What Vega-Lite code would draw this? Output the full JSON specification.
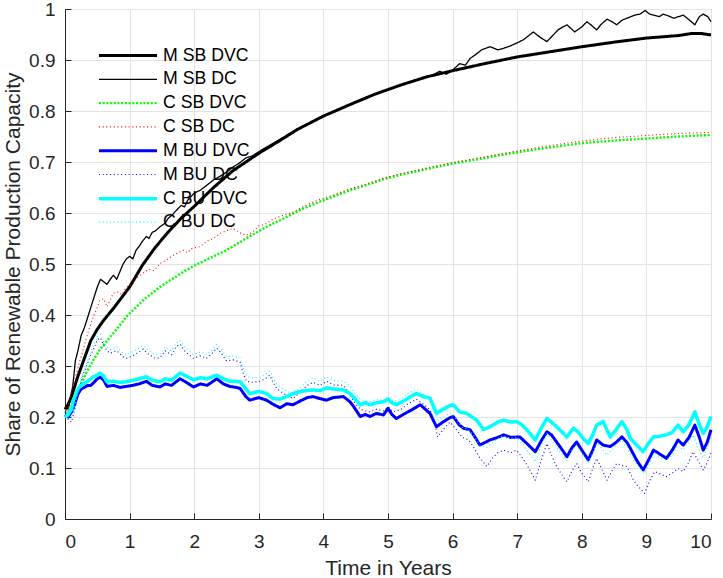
{
  "$schema": "https://vega.github.io/schema/vega-lite/v6.json",
  "width": 646,
  "height": 510,
  "autosize": {"type": "none"},
  "padding": {"left": 65, "top": 9, "right": 12, "bottom": 59},
  "background": "white",
  "data": {"values": [
    {"s":"M SB DVC","t":0,"v":0.215},{"s":"M SB DVC","t":0.05,"v":0.225},{"s":"M SB DVC","t":0.1,"v":0.24},{"s":"M SB DVC","t":0.2,"v":0.28},{"s":"M SB DVC","t":0.3,"v":0.315},{"s":"M SB DVC","t":0.4,"v":0.35},{"s":"M SB DVC","t":0.5,"v":0.372},{"s":"M SB DVC","t":0.6,"v":0.39},{"s":"M SB DVC","t":0.75,"v":0.413},{"s":"M SB DVC","t":0.9,"v":0.438},{"s":"M SB DVC","t":1.0,"v":0.455},{"s":"M SB DVC","t":1.2,"v":0.498},{"s":"M SB DVC","t":1.4,"v":0.533},{"s":"M SB DVC","t":1.6,"v":0.563},{"s":"M SB DVC","t":1.8,"v":0.59},{"s":"M SB DVC","t":2.0,"v":0.613},{"s":"M SB DVC","t":2.3,"v":0.65},{"s":"M SB DVC","t":2.6,"v":0.683},{"s":"M SB DVC","t":3.0,"v":0.717},{"s":"M SB DVC","t":3.3,"v":0.74},{"s":"M SB DVC","t":3.6,"v":0.764},{"s":"M SB DVC","t":4.0,"v":0.79},{"s":"M SB DVC","t":4.4,"v":0.812},{"s":"M SB DVC","t":4.8,"v":0.833},{"s":"M SB DVC","t":5.2,"v":0.851},{"s":"M SB DVC","t":5.6,"v":0.867},{"s":"M SB DVC","t":6.0,"v":0.879},{"s":"M SB DVC","t":6.5,"v":0.893},{"s":"M SB DVC","t":7.0,"v":0.906},{"s":"M SB DVC","t":7.5,"v":0.916},{"s":"M SB DVC","t":8.0,"v":0.926},{"s":"M SB DVC","t":8.5,"v":0.935},{"s":"M SB DVC","t":9.0,"v":0.943},{"s":"M SB DVC","t":9.5,"v":0.948},{"s":"M SB DVC","t":9.7,"v":0.952},{"s":"M SB DVC","t":9.85,"v":0.952},{"s":"M SB DVC","t":10,"v":0.949},

    {"s":"M SB DC","t":0,"v":0.22},{"s":"M SB DC","t":0.05,"v":0.215},{"s":"M SB DC","t":0.08,"v":0.235},{"s":"M SB DC","t":0.12,"v":0.26},{"s":"M SB DC","t":0.16,"v":0.31},{"s":"M SB DC","t":0.2,"v":0.33},{"s":"M SB DC","t":0.25,"v":0.36},{"s":"M SB DC","t":0.3,"v":0.375},{"s":"M SB DC","t":0.35,"v":0.395},{"s":"M SB DC","t":0.4,"v":0.415},{"s":"M SB DC","t":0.45,"v":0.435},{"s":"M SB DC","t":0.5,"v":0.455},{"s":"M SB DC","t":0.55,"v":0.47},{"s":"M SB DC","t":0.6,"v":0.465},{"s":"M SB DC","t":0.65,"v":0.46},{"s":"M SB DC","t":0.7,"v":0.47},{"s":"M SB DC","t":0.75,"v":0.478},{"s":"M SB DC","t":0.8,"v":0.47},{"s":"M SB DC","t":0.85,"v":0.485},{"s":"M SB DC","t":0.9,"v":0.5},{"s":"M SB DC","t":0.95,"v":0.51},{"s":"M SB DC","t":1.0,"v":0.515},{"s":"M SB DC","t":1.05,"v":0.51},{"s":"M SB DC","t":1.1,"v":0.527},{"s":"M SB DC","t":1.15,"v":0.535},{"s":"M SB DC","t":1.2,"v":0.545},{"s":"M SB DC","t":1.26,"v":0.554},{"s":"M SB DC","t":1.3,"v":0.55},{"s":"M SB DC","t":1.35,"v":0.562},{"s":"M SB DC","t":1.4,"v":0.565},{"s":"M SB DC","t":1.47,"v":0.573},{"s":"M SB DC","t":1.55,"v":0.58},{"s":"M SB DC","t":1.6,"v":0.59},{"s":"M SB DC","t":1.65,"v":0.595},{"s":"M SB DC","t":1.73,"v":0.606},{"s":"M SB DC","t":1.8,"v":0.615},{"s":"M SB DC","t":1.85,"v":0.612},{"s":"M SB DC","t":1.9,"v":0.625},{"s":"M SB DC","t":2.0,"v":0.639},{"s":"M SB DC","t":2.1,"v":0.645},{"s":"M SB DC","t":2.2,"v":0.655},{"s":"M SB DC","t":2.3,"v":0.665},{"s":"M SB DC","t":2.4,"v":0.672},{"s":"M SB DC","t":2.5,"v":0.68},{"s":"M SB DC","t":2.6,"v":0.69},{"s":"M SB DC","t":2.7,"v":0.698},{"s":"M SB DC","t":2.8,"v":0.708},{"s":"M SB DC","t":2.9,"v":0.712},{"s":"M SB DC","t":3.0,"v":0.72},{"s":"M SB DC","t":3.1,"v":0.728},{"s":"M SB DC","t":3.2,"v":0.735},{"s":"M SB DC","t":3.4,"v":0.75},{"s":"M SB DC","t":3.6,"v":0.765},{"s":"M SB DC","t":3.8,"v":0.777},{"s":"M SB DC","t":4.0,"v":0.791},{"s":"M SB DC","t":4.2,"v":0.8},{"s":"M SB DC","t":4.4,"v":0.812},{"s":"M SB DC","t":4.6,"v":0.824},{"s":"M SB DC","t":4.8,"v":0.833},{"s":"M SB DC","t":5.0,"v":0.842},{"s":"M SB DC","t":5.2,"v":0.851},{"s":"M SB DC","t":5.4,"v":0.86},{"s":"M SB DC","t":5.6,"v":0.866},{"s":"M SB DC","t":5.7,"v":0.871},{"s":"M SB DC","t":5.8,"v":0.878},{"s":"M SB DC","t":5.9,"v":0.872},{"s":"M SB DC","t":6.0,"v":0.88},{"s":"M SB DC","t":6.11,"v":0.893},{"s":"M SB DC","t":6.2,"v":0.89},{"s":"M SB DC","t":6.27,"v":0.903},{"s":"M SB DC","t":6.35,"v":0.91},{"s":"M SB DC","t":6.45,"v":0.92},{"s":"M SB DC","t":6.58,"v":0.926},{"s":"M SB DC","t":6.7,"v":0.92},{"s":"M SB DC","t":6.79,"v":0.923},{"s":"M SB DC","t":6.9,"v":0.928},{"s":"M SB DC","t":6.99,"v":0.933},{"s":"M SB DC","t":7.1,"v":0.94},{"s":"M SB DC","t":7.25,"v":0.955},{"s":"M SB DC","t":7.35,"v":0.945},{"s":"M SB DC","t":7.46,"v":0.936},{"s":"M SB DC","t":7.55,"v":0.948},{"s":"M SB DC","t":7.64,"v":0.96},{"s":"M SB DC","t":7.77,"v":0.969},{"s":"M SB DC","t":7.89,"v":0.955},{"s":"M SB DC","t":8.0,"v":0.965},{"s":"M SB DC","t":8.08,"v":0.975},{"s":"M SB DC","t":8.15,"v":0.968},{"s":"M SB DC","t":8.23,"v":0.959},{"s":"M SB DC","t":8.3,"v":0.97},{"s":"M SB DC","t":8.39,"v":0.98},{"s":"M SB DC","t":8.47,"v":0.975},{"s":"M SB DC","t":8.54,"v":0.969},{"s":"M SB DC","t":8.62,"v":0.978},{"s":"M SB DC","t":8.7,"v":0.982},{"s":"M SB DC","t":8.82,"v":0.988},{"s":"M SB DC","t":8.9,"v":0.99},{"s":"M SB DC","t":8.98,"v":0.997},{"s":"M SB DC","t":9.05,"v":0.99},{"s":"M SB DC","t":9.11,"v":0.988},{"s":"M SB DC","t":9.2,"v":0.985},{"s":"M SB DC","t":9.26,"v":0.99},{"s":"M SB DC","t":9.35,"v":0.986},{"s":"M SB DC","t":9.42,"v":0.982},{"s":"M SB DC","t":9.5,"v":0.985},{"s":"M SB DC","t":9.57,"v":0.988},{"s":"M SB DC","t":9.65,"v":0.98},{"s":"M SB DC","t":9.75,"v":0.969},{"s":"M SB DC","t":9.82,"v":0.985},{"s":"M SB DC","t":9.88,"v":0.99},{"s":"M SB DC","t":9.95,"v":0.985},{"s":"M SB DC","t":10,"v":0.975},

    {"s":"C SB DVC","t":0,"v":0.2},{"s":"C SB DVC","t":0.05,"v":0.21},{"s":"C SB DVC","t":0.13,"v":0.233},{"s":"C SB DVC","t":0.23,"v":0.259},{"s":"C SB DVC","t":0.33,"v":0.287},{"s":"C SB DVC","t":0.44,"v":0.312},{"s":"C SB DVC","t":0.55,"v":0.334},{"s":"C SB DVC","t":0.7,"v":0.357},{"s":"C SB DVC","t":0.85,"v":0.38},{"s":"C SB DVC","t":0.95,"v":0.397},{"s":"C SB DVC","t":1.1,"v":0.415},{"s":"C SB DVC","t":1.21,"v":0.429},{"s":"C SB DVC","t":1.35,"v":0.443},{"s":"C SB DVC","t":1.47,"v":0.455},{"s":"C SB DVC","t":1.6,"v":0.466},{"s":"C SB DVC","t":1.73,"v":0.476},{"s":"C SB DVC","t":1.85,"v":0.486},{"s":"C SB DVC","t":1.99,"v":0.496},{"s":"C SB DVC","t":2.2,"v":0.509},{"s":"C SB DVC","t":2.5,"v":0.527},{"s":"C SB DVC","t":2.8,"v":0.55},{"s":"C SB DVC","t":3.12,"v":0.573},{"s":"C SB DVC","t":3.4,"v":0.59},{"s":"C SB DVC","t":3.64,"v":0.606},{"s":"C SB DVC","t":3.9,"v":0.62},{"s":"C SB DVC","t":4.15,"v":0.632},{"s":"C SB DVC","t":4.4,"v":0.644},{"s":"C SB DVC","t":4.67,"v":0.655},{"s":"C SB DVC","t":4.9,"v":0.665},{"s":"C SB DVC","t":5.19,"v":0.675},{"s":"C SB DVC","t":5.45,"v":0.682},{"s":"C SB DVC","t":5.7,"v":0.689},{"s":"C SB DVC","t":6.0,"v":0.697},{"s":"C SB DVC","t":6.42,"v":0.706},{"s":"C SB DVC","t":6.8,"v":0.715},{"s":"C SB DVC","t":7.2,"v":0.723},{"s":"C SB DVC","t":7.6,"v":0.73},{"s":"C SB DVC","t":8.0,"v":0.737},{"s":"C SB DVC","t":8.5,"v":0.742},{"s":"C SB DVC","t":9.0,"v":0.746},{"s":"C SB DVC","t":9.5,"v":0.75},{"s":"C SB DVC","t":10,"v":0.753},

    {"s":"C SB DC","t":0,"v":0.22},{"s":"C SB DC","t":0.04,"v":0.205},{"s":"C SB DC","t":0.08,"v":0.24},{"s":"C SB DC","t":0.13,"v":0.265},{"s":"C SB DC","t":0.18,"v":0.286},{"s":"C SB DC","t":0.23,"v":0.31},{"s":"C SB DC","t":0.28,"v":0.331},{"s":"C SB DC","t":0.33,"v":0.355},{"s":"C SB DC","t":0.38,"v":0.375},{"s":"C SB DC","t":0.44,"v":0.397},{"s":"C SB DC","t":0.5,"v":0.415},{"s":"C SB DC","t":0.54,"v":0.429},{"s":"C SB DC","t":0.6,"v":0.432},{"s":"C SB DC","t":0.65,"v":0.416},{"s":"C SB DC","t":0.7,"v":0.43},{"s":"C SB DC","t":0.75,"v":0.443},{"s":"C SB DC","t":0.82,"v":0.445},{"s":"C SB DC","t":0.88,"v":0.44},{"s":"C SB DC","t":0.95,"v":0.455},{"s":"C SB DC","t":1.05,"v":0.46},{"s":"C SB DC","t":1.1,"v":0.472},{"s":"C SB DC","t":1.21,"v":0.482},{"s":"C SB DC","t":1.3,"v":0.49},{"s":"C SB DC","t":1.38,"v":0.487},{"s":"C SB DC","t":1.47,"v":0.501},{"s":"C SB DC","t":1.57,"v":0.508},{"s":"C SB DC","t":1.65,"v":0.515},{"s":"C SB DC","t":1.75,"v":0.522},{"s":"C SB DC","t":1.83,"v":0.527},{"s":"C SB DC","t":1.9,"v":0.522},{"s":"C SB DC","t":1.95,"v":0.53},{"s":"C SB DC","t":2.09,"v":0.534},{"s":"C SB DC","t":2.2,"v":0.545},{"s":"C SB DC","t":2.3,"v":0.55},{"s":"C SB DC","t":2.4,"v":0.56},{"s":"C SB DC","t":2.5,"v":0.565},{"s":"C SB DC","t":2.6,"v":0.57},{"s":"C SB DC","t":2.7,"v":0.562},{"s":"C SB DC","t":2.8,"v":0.556},{"s":"C SB DC","t":2.9,"v":0.562},{"s":"C SB DC","t":3.0,"v":0.575},{"s":"C SB DC","t":3.1,"v":0.578},{"s":"C SB DC","t":3.22,"v":0.588},{"s":"C SB DC","t":3.35,"v":0.594},{"s":"C SB DC","t":3.5,"v":0.6},{"s":"C SB DC","t":3.7,"v":0.613},{"s":"C SB DC","t":3.9,"v":0.625},{"s":"C SB DC","t":4.15,"v":0.635},{"s":"C SB DC","t":4.4,"v":0.647},{"s":"C SB DC","t":4.67,"v":0.657},{"s":"C SB DC","t":4.9,"v":0.667},{"s":"C SB DC","t":5.19,"v":0.677},{"s":"C SB DC","t":5.45,"v":0.684},{"s":"C SB DC","t":5.7,"v":0.691},{"s":"C SB DC","t":6.0,"v":0.699},{"s":"C SB DC","t":6.4,"v":0.708},{"s":"C SB DC","t":6.8,"v":0.717},{"s":"C SB DC","t":7.2,"v":0.726},{"s":"C SB DC","t":7.6,"v":0.734},{"s":"C SB DC","t":8.0,"v":0.741},{"s":"C SB DC","t":8.5,"v":0.748},{"s":"C SB DC","t":9.0,"v":0.752},{"s":"C SB DC","t":9.5,"v":0.756},{"s":"C SB DC","t":10,"v":0.758},

    {"s":"M BU DVC","t":0,"v":0.205},{"s":"M BU DVC","t":0.05,"v":0.2},{"s":"M BU DVC","t":0.1,"v":0.21},{"s":"M BU DVC","t":0.15,"v":0.225},{"s":"M BU DVC","t":0.2,"v":0.245},{"s":"M BU DVC","t":0.25,"v":0.255},{"s":"M BU DVC","t":0.3,"v":0.258},{"s":"M BU DVC","t":0.35,"v":0.262},{"s":"M BU DVC","t":0.4,"v":0.262},{"s":"M BU DVC","t":0.45,"v":0.268},{"s":"M BU DVC","t":0.5,"v":0.275},{"s":"M BU DVC","t":0.55,"v":0.278},{"s":"M BU DVC","t":0.6,"v":0.272},{"s":"M BU DVC","t":0.65,"v":0.26},{"s":"M BU DVC","t":0.75,"v":0.262},{"s":"M BU DVC","t":0.85,"v":0.258},{"s":"M BU DVC","t":0.95,"v":0.26},{"s":"M BU DVC","t":1.05,"v":0.262},{"s":"M BU DVC","t":1.15,"v":0.265},{"s":"M BU DVC","t":1.26,"v":0.27},{"s":"M BU DVC","t":1.35,"v":0.262},{"s":"M BU DVC","t":1.47,"v":0.259},{"s":"M BU DVC","t":1.55,"v":0.265},{"s":"M BU DVC","t":1.65,"v":0.262},{"s":"M BU DVC","t":1.78,"v":0.275},{"s":"M BU DVC","t":1.85,"v":0.27},{"s":"M BU DVC","t":1.99,"v":0.259},{"s":"M BU DVC","t":2.1,"v":0.265},{"s":"M BU DVC","t":2.2,"v":0.262},{"s":"M BU DVC","t":2.35,"v":0.275},{"s":"M BU DVC","t":2.45,"v":0.265},{"s":"M BU DVC","t":2.55,"v":0.26},{"s":"M BU DVC","t":2.65,"v":0.258},{"s":"M BU DVC","t":2.71,"v":0.256},{"s":"M BU DVC","t":2.8,"v":0.24},{"s":"M BU DVC","t":2.86,"v":0.233},{"s":"M BU DVC","t":3.0,"v":0.238},{"s":"M BU DVC","t":3.12,"v":0.233},{"s":"M BU DVC","t":3.22,"v":0.225},{"s":"M BU DVC","t":3.33,"v":0.218},{"s":"M BU DVC","t":3.43,"v":0.226},{"s":"M BU DVC","t":3.53,"v":0.224},{"s":"M BU DVC","t":3.65,"v":0.232},{"s":"M BU DVC","t":3.75,"v":0.238},{"s":"M BU DVC","t":3.84,"v":0.24},{"s":"M BU DVC","t":3.95,"v":0.236},{"s":"M BU DVC","t":4.05,"v":0.233},{"s":"M BU DVC","t":4.15,"v":0.238},{"s":"M BU DVC","t":4.31,"v":0.24},{"s":"M BU DVC","t":4.41,"v":0.23},{"s":"M BU DVC","t":4.46,"v":0.222},{"s":"M BU DVC","t":4.57,"v":0.201},{"s":"M BU DVC","t":4.65,"v":0.205},{"s":"M BU DVC","t":4.72,"v":0.201},{"s":"M BU DVC","t":4.82,"v":0.207},{"s":"M BU DVC","t":4.93,"v":0.204},{"s":"M BU DVC","t":5.0,"v":0.217},{"s":"M BU DVC","t":5.06,"v":0.205},{"s":"M BU DVC","t":5.13,"v":0.197},{"s":"M BU DVC","t":5.25,"v":0.206},{"s":"M BU DVC","t":5.38,"v":0.215},{"s":"M BU DVC","t":5.5,"v":0.224},{"s":"M BU DVC","t":5.58,"v":0.215},{"s":"M BU DVC","t":5.65,"v":0.207},{"s":"M BU DVC","t":5.75,"v":0.181},{"s":"M BU DVC","t":5.85,"v":0.19},{"s":"M BU DVC","t":5.95,"v":0.198},{"s":"M BU DVC","t":6.01,"v":0.201},{"s":"M BU DVC","t":6.1,"v":0.185},{"s":"M BU DVC","t":6.17,"v":0.178},{"s":"M BU DVC","t":6.27,"v":0.175},{"s":"M BU DVC","t":6.35,"v":0.16},{"s":"M BU DVC","t":6.42,"v":0.145},{"s":"M BU DVC","t":6.5,"v":0.15},{"s":"M BU DVC","t":6.58,"v":0.155},{"s":"M BU DVC","t":6.7,"v":0.16},{"s":"M BU DVC","t":6.79,"v":0.165},{"s":"M BU DVC","t":6.9,"v":0.16},{"s":"M BU DVC","t":7.04,"v":0.161},{"s":"M BU DVC","t":7.15,"v":0.148},{"s":"M BU DVC","t":7.28,"v":0.132},{"s":"M BU DVC","t":7.38,"v":0.155},{"s":"M BU DVC","t":7.46,"v":0.171},{"s":"M BU DVC","t":7.53,"v":0.165},{"s":"M BU DVC","t":7.61,"v":0.151},{"s":"M BU DVC","t":7.7,"v":0.135},{"s":"M BU DVC","t":7.77,"v":0.122},{"s":"M BU DVC","t":7.85,"v":0.14},{"s":"M BU DVC","t":7.92,"v":0.151},{"s":"M BU DVC","t":8.0,"v":0.135},{"s":"M BU DVC","t":8.1,"v":0.116},{"s":"M BU DVC","t":8.17,"v":0.135},{"s":"M BU DVC","t":8.23,"v":0.155},{"s":"M BU DVC","t":8.33,"v":0.145},{"s":"M BU DVC","t":8.44,"v":0.142},{"s":"M BU DVC","t":8.53,"v":0.15},{"s":"M BU DVC","t":8.62,"v":0.161},{"s":"M BU DVC","t":8.7,"v":0.15},{"s":"M BU DVC","t":8.75,"v":0.139},{"s":"M BU DVC","t":8.85,"v":0.115},{"s":"M BU DVC","t":8.95,"v":0.096},{"s":"M BU DVC","t":9.03,"v":0.115},{"s":"M BU DVC","t":9.11,"v":0.135},{"s":"M BU DVC","t":9.2,"v":0.128},{"s":"M BU DVC","t":9.31,"v":0.119},{"s":"M BU DVC","t":9.4,"v":0.135},{"s":"M BU DVC","t":9.49,"v":0.155},{"s":"M BU DVC","t":9.57,"v":0.145},{"s":"M BU DVC","t":9.66,"v":0.16},{"s":"M BU DVC","t":9.75,"v":0.184},{"s":"M BU DVC","t":9.82,"v":0.16},{"s":"M BU DVC","t":9.88,"v":0.135},{"s":"M BU DVC","t":9.94,"v":0.15},{"s":"M BU DVC","t":10,"v":0.175},

    {"s":"M BU DC","t":0,"v":0.21},{"s":"M BU DC","t":0.05,"v":0.195},{"s":"M BU DC","t":0.1,"v":0.19},{"s":"M BU DC","t":0.15,"v":0.215},{"s":"M BU DC","t":0.2,"v":0.245},{"s":"M BU DC","t":0.25,"v":0.27},{"s":"M BU DC","t":0.3,"v":0.29},{"s":"M BU DC","t":0.35,"v":0.305},{"s":"M BU DC","t":0.4,"v":0.322},{"s":"M BU DC","t":0.45,"v":0.335},{"s":"M BU DC","t":0.5,"v":0.352},{"s":"M BU DC","t":0.55,"v":0.355},{"s":"M BU DC","t":0.6,"v":0.34},{"s":"M BU DC","t":0.65,"v":0.33},{"s":"M BU DC","t":0.7,"v":0.325},{"s":"M BU DC","t":0.8,"v":0.33},{"s":"M BU DC","t":0.9,"v":0.318},{"s":"M BU DC","t":0.95,"v":0.315},{"s":"M BU DC","t":1.05,"v":0.32},{"s":"M BU DC","t":1.15,"v":0.328},{"s":"M BU DC","t":1.21,"v":0.333},{"s":"M BU DC","t":1.3,"v":0.322},{"s":"M BU DC","t":1.4,"v":0.315},{"s":"M BU DC","t":1.47,"v":0.316},{"s":"M BU DC","t":1.55,"v":0.33},{"s":"M BU DC","t":1.65,"v":0.322},{"s":"M BU DC","t":1.72,"v":0.338},{"s":"M BU DC","t":1.78,"v":0.343},{"s":"M BU DC","t":1.85,"v":0.33},{"s":"M BU DC","t":1.92,"v":0.322},{"s":"M BU DC","t":1.99,"v":0.315},{"s":"M BU DC","t":2.1,"v":0.32},{"s":"M BU DC","t":2.19,"v":0.315},{"s":"M BU DC","t":2.28,"v":0.325},{"s":"M BU DC","t":2.35,"v":0.335},{"s":"M BU DC","t":2.42,"v":0.325},{"s":"M BU DC","t":2.5,"v":0.31},{"s":"M BU DC","t":2.6,"v":0.312},{"s":"M BU DC","t":2.71,"v":0.308},{"s":"M BU DC","t":2.76,"v":0.285},{"s":"M BU DC","t":2.81,"v":0.27},{"s":"M BU DC","t":2.9,"v":0.268},{"s":"M BU DC","t":3.02,"v":0.27},{"s":"M BU DC","t":3.1,"v":0.275},{"s":"M BU DC","t":3.17,"v":0.282},{"s":"M BU DC","t":3.22,"v":0.268},{"s":"M BU DC","t":3.28,"v":0.255},{"s":"M BU DC","t":3.4,"v":0.245},{"s":"M BU DC","t":3.53,"v":0.236},{"s":"M BU DC","t":3.65,"v":0.25},{"s":"M BU DC","t":3.75,"v":0.262},{"s":"M BU DC","t":3.84,"v":0.268},{"s":"M BU DC","t":3.95,"v":0.262},{"s":"M BU DC","t":4.05,"v":0.27},{"s":"M BU DC","t":4.15,"v":0.263},{"s":"M BU DC","t":4.31,"v":0.262},{"s":"M BU DC","t":4.41,"v":0.245},{"s":"M BU DC","t":4.46,"v":0.232},{"s":"M BU DC","t":4.57,"v":0.215},{"s":"M BU DC","t":4.65,"v":0.212},{"s":"M BU DC","t":4.72,"v":0.21},{"s":"M BU DC","t":4.82,"v":0.215},{"s":"M BU DC","t":4.93,"v":0.212},{"s":"M BU DC","t":5.0,"v":0.22},{"s":"M BU DC","t":5.08,"v":0.21},{"s":"M BU DC","t":5.2,"v":0.215},{"s":"M BU DC","t":5.3,"v":0.225},{"s":"M BU DC","t":5.44,"v":0.235},{"s":"M BU DC","t":5.55,"v":0.225},{"s":"M BU DC","t":5.65,"v":0.214},{"s":"M BU DC","t":5.72,"v":0.19},{"s":"M BU DC","t":5.77,"v":0.161},{"s":"M BU DC","t":5.85,"v":0.175},{"s":"M BU DC","t":5.96,"v":0.19},{"s":"M BU DC","t":6.06,"v":0.175},{"s":"M BU DC","t":6.15,"v":0.16},{"s":"M BU DC","t":6.25,"v":0.155},{"s":"M BU DC","t":6.32,"v":0.142},{"s":"M BU DC","t":6.42,"v":0.12},{"s":"M BU DC","t":6.53,"v":0.103},{"s":"M BU DC","t":6.62,"v":0.12},{"s":"M BU DC","t":6.7,"v":0.13},{"s":"M BU DC","t":6.79,"v":0.135},{"s":"M BU DC","t":6.9,"v":0.13},{"s":"M BU DC","t":6.99,"v":0.135},{"s":"M BU DC","t":7.08,"v":0.12},{"s":"M BU DC","t":7.18,"v":0.1},{"s":"M BU DC","t":7.28,"v":0.076},{"s":"M BU DC","t":7.36,"v":0.11},{"s":"M BU DC","t":7.46,"v":0.148},{"s":"M BU DC","t":7.53,"v":0.125},{"s":"M BU DC","t":7.61,"v":0.103},{"s":"M BU DC","t":7.7,"v":0.085},{"s":"M BU DC","t":7.77,"v":0.073},{"s":"M BU DC","t":7.85,"v":0.095},{"s":"M BU DC","t":7.92,"v":0.109},{"s":"M BU DC","t":8.0,"v":0.09},{"s":"M BU DC","t":8.1,"v":0.073},{"s":"M BU DC","t":8.17,"v":0.1},{"s":"M BU DC","t":8.23,"v":0.119},{"s":"M BU DC","t":8.3,"v":0.1},{"s":"M BU DC","t":8.39,"v":0.076},{"s":"M BU DC","t":8.47,"v":0.095},{"s":"M BU DC","t":8.54,"v":0.109},{"s":"M BU DC","t":8.62,"v":0.105},{"s":"M BU DC","t":8.7,"v":0.103},{"s":"M BU DC","t":8.8,"v":0.076},{"s":"M BU DC","t":8.9,"v":0.06},{"s":"M BU DC","t":8.97,"v":0.05},{"s":"M BU DC","t":9.05,"v":0.075},{"s":"M BU DC","t":9.13,"v":0.093},{"s":"M BU DC","t":9.22,"v":0.088},{"s":"M BU DC","t":9.31,"v":0.083},{"s":"M BU DC","t":9.4,"v":0.09},{"s":"M BU DC","t":9.49,"v":0.099},{"s":"M BU DC","t":9.57,"v":0.093},{"s":"M BU DC","t":9.65,"v":0.11},{"s":"M BU DC","t":9.72,"v":0.132},{"s":"M BU DC","t":9.8,"v":0.115},{"s":"M BU DC","t":9.88,"v":0.096},{"s":"M BU DC","t":9.94,"v":0.11},{"s":"M BU DC","t":10,"v":0.129},

    {"s":"C BU DVC","t":0,"v":0.2},{"s":"C BU DVC","t":0.05,"v":0.205},{"s":"C BU DVC","t":0.1,"v":0.215},{"s":"C BU DVC","t":0.13,"v":0.233},{"s":"C BU DVC","t":0.2,"v":0.255},{"s":"C BU DVC","t":0.25,"v":0.262},{"s":"C BU DVC","t":0.3,"v":0.266},{"s":"C BU DVC","t":0.35,"v":0.27},{"s":"C BU DVC","t":0.44,"v":0.279},{"s":"C BU DVC","t":0.5,"v":0.282},{"s":"C BU DVC","t":0.54,"v":0.286},{"s":"C BU DVC","t":0.6,"v":0.28},{"s":"C BU DVC","t":0.65,"v":0.269},{"s":"C BU DVC","t":0.75,"v":0.27},{"s":"C BU DVC","t":0.85,"v":0.268},{"s":"C BU DVC","t":0.95,"v":0.269},{"s":"C BU DVC","t":1.05,"v":0.272},{"s":"C BU DVC","t":1.15,"v":0.275},{"s":"C BU DVC","t":1.26,"v":0.279},{"s":"C BU DVC","t":1.35,"v":0.272},{"s":"C BU DVC","t":1.47,"v":0.269},{"s":"C BU DVC","t":1.55,"v":0.275},{"s":"C BU DVC","t":1.65,"v":0.272},{"s":"C BU DVC","t":1.78,"v":0.286},{"s":"C BU DVC","t":1.85,"v":0.282},{"s":"C BU DVC","t":1.99,"v":0.273},{"s":"C BU DVC","t":2.1,"v":0.277},{"s":"C BU DVC","t":2.2,"v":0.275},{"s":"C BU DVC","t":2.35,"v":0.282},{"s":"C BU DVC","t":2.45,"v":0.275},{"s":"C BU DVC","t":2.55,"v":0.27},{"s":"C BU DVC","t":2.65,"v":0.27},{"s":"C BU DVC","t":2.71,"v":0.269},{"s":"C BU DVC","t":2.8,"v":0.255},{"s":"C BU DVC","t":2.86,"v":0.246},{"s":"C BU DVC","t":3.0,"v":0.25},{"s":"C BU DVC","t":3.12,"v":0.246},{"s":"C BU DVC","t":3.22,"v":0.236},{"s":"C BU DVC","t":3.33,"v":0.235},{"s":"C BU DVC","t":3.43,"v":0.24},{"s":"C BU DVC","t":3.53,"v":0.246},{"s":"C BU DVC","t":3.65,"v":0.25},{"s":"C BU DVC","t":3.75,"v":0.252},{"s":"C BU DVC","t":3.84,"v":0.253},{"s":"C BU DVC","t":3.95,"v":0.252},{"s":"C BU DVC","t":4.05,"v":0.257},{"s":"C BU DVC","t":4.15,"v":0.255},{"s":"C BU DVC","t":4.31,"v":0.253},{"s":"C BU DVC","t":4.41,"v":0.246},{"s":"C BU DVC","t":4.46,"v":0.24},{"s":"C BU DVC","t":4.57,"v":0.224},{"s":"C BU DVC","t":4.65,"v":0.228},{"s":"C BU DVC","t":4.72,"v":0.224},{"s":"C BU DVC","t":4.82,"v":0.228},{"s":"C BU DVC","t":4.93,"v":0.23},{"s":"C BU DVC","t":5.0,"v":0.235},{"s":"C BU DVC","t":5.06,"v":0.228},{"s":"C BU DVC","t":5.13,"v":0.224},{"s":"C BU DVC","t":5.25,"v":0.232},{"s":"C BU DVC","t":5.35,"v":0.24},{"s":"C BU DVC","t":5.44,"v":0.246},{"s":"C BU DVC","t":5.55,"v":0.24},{"s":"C BU DVC","t":5.65,"v":0.237},{"s":"C BU DVC","t":5.75,"v":0.207},{"s":"C BU DVC","t":5.85,"v":0.215},{"s":"C BU DVC","t":5.95,"v":0.222},{"s":"C BU DVC","t":6.01,"v":0.224},{"s":"C BU DVC","t":6.11,"v":0.21},{"s":"C BU DVC","t":6.22,"v":0.207},{"s":"C BU DVC","t":6.3,"v":0.2},{"s":"C BU DVC","t":6.37,"v":0.194},{"s":"C BU DVC","t":6.48,"v":0.175},{"s":"C BU DVC","t":6.58,"v":0.181},{"s":"C BU DVC","t":6.7,"v":0.19},{"s":"C BU DVC","t":6.79,"v":0.194},{"s":"C BU DVC","t":6.9,"v":0.19},{"s":"C BU DVC","t":6.99,"v":0.191},{"s":"C BU DVC","t":7.07,"v":0.185},{"s":"C BU DVC","t":7.15,"v":0.175},{"s":"C BU DVC","t":7.28,"v":0.155},{"s":"C BU DVC","t":7.38,"v":0.18},{"s":"C BU DVC","t":7.46,"v":0.197},{"s":"C BU DVC","t":7.53,"v":0.19},{"s":"C BU DVC","t":7.61,"v":0.181},{"s":"C BU DVC","t":7.7,"v":0.17},{"s":"C BU DVC","t":7.77,"v":0.161},{"s":"C BU DVC","t":7.87,"v":0.178},{"s":"C BU DVC","t":7.95,"v":0.17},{"s":"C BU DVC","t":8.02,"v":0.158},{"s":"C BU DVC","t":8.1,"v":0.148},{"s":"C BU DVC","t":8.17,"v":0.165},{"s":"C BU DVC","t":8.23,"v":0.184},{"s":"C BU DVC","t":8.33,"v":0.191},{"s":"C BU DVC","t":8.44,"v":0.161},{"s":"C BU DVC","t":8.53,"v":0.175},{"s":"C BU DVC","t":8.62,"v":0.191},{"s":"C BU DVC","t":8.7,"v":0.175},{"s":"C BU DVC","t":8.75,"v":0.158},{"s":"C BU DVC","t":8.85,"v":0.145},{"s":"C BU DVC","t":8.95,"v":0.132},{"s":"C BU DVC","t":9.03,"v":0.148},{"s":"C BU DVC","t":9.11,"v":0.161},{"s":"C BU DVC","t":9.2,"v":0.162},{"s":"C BU DVC","t":9.31,"v":0.165},{"s":"C BU DVC","t":9.4,"v":0.17},{"s":"C BU DVC","t":9.49,"v":0.184},{"s":"C BU DVC","t":9.57,"v":0.171},{"s":"C BU DVC","t":9.66,"v":0.185},{"s":"C BU DVC","t":9.75,"v":0.21},{"s":"C BU DVC","t":9.82,"v":0.185},{"s":"C BU DVC","t":9.88,"v":0.168},{"s":"C BU DVC","t":9.94,"v":0.18},{"s":"C BU DVC","t":10,"v":0.201},

    {"s":"C BU DC","t":0,"v":0.215},{"s":"C BU DC","t":0.05,"v":0.2},{"s":"C BU DC","t":0.1,"v":0.2},{"s":"C BU DC","t":0.15,"v":0.22},{"s":"C BU DC","t":0.2,"v":0.25},{"s":"C BU DC","t":0.25,"v":0.275},{"s":"C BU DC","t":0.3,"v":0.295},{"s":"C BU DC","t":0.35,"v":0.31},{"s":"C BU DC","t":0.4,"v":0.328},{"s":"C BU DC","t":0.45,"v":0.342},{"s":"C BU DC","t":0.5,"v":0.358},{"s":"C BU DC","t":0.55,"v":0.362},{"s":"C BU DC","t":0.6,"v":0.348},{"s":"C BU DC","t":0.65,"v":0.338},{"s":"C BU DC","t":0.7,"v":0.332},{"s":"C BU DC","t":0.8,"v":0.338},{"s":"C BU DC","t":0.9,"v":0.325},{"s":"C BU DC","t":0.95,"v":0.322},{"s":"C BU DC","t":1.05,"v":0.328},{"s":"C BU DC","t":1.15,"v":0.336},{"s":"C BU DC","t":1.21,"v":0.34},{"s":"C BU DC","t":1.3,"v":0.33},{"s":"C BU DC","t":1.4,"v":0.322},{"s":"C BU DC","t":1.47,"v":0.323},{"s":"C BU DC","t":1.55,"v":0.337},{"s":"C BU DC","t":1.65,"v":0.33},{"s":"C BU DC","t":1.72,"v":0.345},{"s":"C BU DC","t":1.78,"v":0.35},{"s":"C BU DC","t":1.85,"v":0.338},{"s":"C BU DC","t":1.92,"v":0.33},{"s":"C BU DC","t":1.99,"v":0.322},{"s":"C BU DC","t":2.1,"v":0.328},{"s":"C BU DC","t":2.19,"v":0.322},{"s":"C BU DC","t":2.28,"v":0.332},{"s":"C BU DC","t":2.35,"v":0.342},{"s":"C BU DC","t":2.42,"v":0.333},{"s":"C BU DC","t":2.5,"v":0.318},{"s":"C BU DC","t":2.6,"v":0.32},{"s":"C BU DC","t":2.71,"v":0.316},{"s":"C BU DC","t":2.76,"v":0.295},{"s":"C BU DC","t":2.81,"v":0.28},{"s":"C BU DC","t":2.9,"v":0.277},{"s":"C BU DC","t":3.02,"v":0.278},{"s":"C BU DC","t":3.1,"v":0.284},{"s":"C BU DC","t":3.17,"v":0.29},{"s":"C BU DC","t":3.22,"v":0.277},{"s":"C BU DC","t":3.28,"v":0.264},{"s":"C BU DC","t":3.4,"v":0.253},{"s":"C BU DC","t":3.53,"v":0.245},{"s":"C BU DC","t":3.65,"v":0.258},{"s":"C BU DC","t":3.75,"v":0.27},{"s":"C BU DC","t":3.84,"v":0.277},{"s":"C BU DC","t":3.95,"v":0.27},{"s":"C BU DC","t":4.05,"v":0.279},{"s":"C BU DC","t":4.15,"v":0.272},{"s":"C BU DC","t":4.31,"v":0.27},{"s":"C BU DC","t":4.41,"v":0.262},{"s":"C BU DC","t":4.46,"v":0.25},{"s":"C BU DC","t":4.57,"v":0.235},{"s":"C BU DC","t":4.65,"v":0.232},{"s":"C BU DC","t":4.72,"v":0.23},{"s":"C BU DC","t":4.82,"v":0.235},{"s":"C BU DC","t":4.93,"v":0.232},{"s":"C BU DC","t":5.0,"v":0.24},{"s":"C BU DC","t":5.08,"v":0.23},{"s":"C BU DC","t":5.2,"v":0.235},{"s":"C BU DC","t":5.3,"v":0.245},{"s":"C BU DC","t":5.44,"v":0.255},{"s":"C BU DC","t":5.55,"v":0.245},{"s":"C BU DC","t":5.65,"v":0.235},{"s":"C BU DC","t":5.72,"v":0.21},{"s":"C BU DC","t":5.77,"v":0.19},{"s":"C BU DC","t":5.85,"v":0.2},{"s":"C BU DC","t":5.96,"v":0.208},{"s":"C BU DC","t":6.06,"v":0.195},{"s":"C BU DC","t":6.15,"v":0.18},{"s":"C BU DC","t":6.25,"v":0.175},{"s":"C BU DC","t":6.32,"v":0.165},{"s":"C BU DC","t":6.42,"v":0.145},{"s":"C BU DC","t":6.53,"v":0.14},{"s":"C BU DC","t":6.62,"v":0.15},{"s":"C BU DC","t":6.7,"v":0.158},{"s":"C BU DC","t":6.79,"v":0.163},{"s":"C BU DC","t":6.9,"v":0.158},{"s":"C BU DC","t":6.99,"v":0.16},{"s":"C BU DC","t":7.08,"v":0.148},{"s":"C BU DC","t":7.18,"v":0.13},{"s":"C BU DC","t":7.28,"v":0.112},{"s":"C BU DC","t":7.36,"v":0.14},{"s":"C BU DC","t":7.46,"v":0.168},{"s":"C BU DC","t":7.53,"v":0.155},{"s":"C BU DC","t":7.61,"v":0.14},{"s":"C BU DC","t":7.7,"v":0.125},{"s":"C BU DC","t":7.77,"v":0.115},{"s":"C BU DC","t":7.85,"v":0.135},{"s":"C BU DC","t":7.92,"v":0.145},{"s":"C BU DC","t":8.0,"v":0.13},{"s":"C BU DC","t":8.1,"v":0.11},{"s":"C BU DC","t":8.17,"v":0.13},{"s":"C BU DC","t":8.23,"v":0.148},{"s":"C BU DC","t":8.3,"v":0.14},{"s":"C BU DC","t":8.39,"v":0.125},{"s":"C BU DC","t":8.47,"v":0.135},{"s":"C BU DC","t":8.54,"v":0.148},{"s":"C BU DC","t":8.62,"v":0.155},{"s":"C BU DC","t":8.7,"v":0.14},{"s":"C BU DC","t":8.8,"v":0.115},{"s":"C BU DC","t":8.9,"v":0.1},{"s":"C BU DC","t":8.97,"v":0.09},{"s":"C BU DC","t":9.05,"v":0.11},{"s":"C BU DC","t":9.13,"v":0.13},{"s":"C BU DC","t":9.22,"v":0.12},{"s":"C BU DC","t":9.31,"v":0.115},{"s":"C BU DC","t":9.4,"v":0.125},{"s":"C BU DC","t":9.49,"v":0.145},{"s":"C BU DC","t":9.57,"v":0.135},{"s":"C BU DC","t":9.65,"v":0.15},{"s":"C BU DC","t":9.72,"v":0.165},{"s":"C BU DC","t":9.8,"v":0.14},{"s":"C BU DC","t":9.88,"v":0.12},{"s":"C BU DC","t":9.94,"v":0.14},{"s":"C BU DC","t":10,"v":0.16}
  ]},
  "mark": {"type": "line", "strokeCap": "butt", "strokeJoin": "round"},
  "encoding": {
    "x": {
      "field": "t", "type": "quantitative",
      "scale": {"domain": [0, 10], "nice": false, "zero": false},
      "axis": {"title": "Time in Years", "values": [0,1,2,3,4,5,6,7,8,9,10], "format": "d"}
    },
    "y": {
      "field": "v", "type": "quantitative",
      "scale": {"domain": [0, 1], "nice": false},
      "axis": {"title": "Share of Renewable Production Capacity", "values": [0,0.1,0.2,0.3,0.4,0.5,0.6,0.7,0.8,0.9,1], "format": "~g"}
    },
    "color": {
      "field": "s", "type": "nominal",
      "scale": {
        "domain": ["M SB DVC","M SB DC","C SB DVC","C SB DC","M BU DVC","M BU DC","C BU DVC","C BU DC"],
        "range": ["#000000","#000000","#00ff00","#ff0000","#0000ff","#0000ff","#00ffff","#00ffff"]
      },
      "legend": {"title": null}
    },
    "strokeDash": {
      "field": "s", "type": "nominal",
      "scale": {
        "domain": ["M SB DVC","M SB DC","C SB DVC","C SB DC","M BU DVC","M BU DC","C BU DVC","C BU DC"],
        "range": [[1,0],[1,0],[2,1.7],[1,2.7],[1,0],[1,2.7],[1,0],[1,2.7]]
      },
      "legend": {"title": null}
    },
    "strokeWidth": {
      "field": "s", "type": "nominal",
      "scale": {
        "type": "ordinal",
        "domain": ["M SB DVC","M SB DC","C SB DVC","C SB DC","M BU DVC","M BU DC","C BU DVC","C BU DC"],
        "range": [3, 1.3, 2.4, 1.1, 3, 1.1, 3.5, 1.1]
      },
      "legend": {"title": null}
    }
  },
  "config": {
    "font": "Liberation Sans",
    "view": {"stroke": "#262626", "strokeWidth": 1},
    "axis": {
      "domainColor": "#262626",
      "tickColor": "#262626",
      "labelColor": "#262626",
      "titleColor": "#262626",
      "gridColor": "#e3e3e3",
      "grid": true,
      "labelFontSize": 19,
      "titleFontSize": 21,
      "titleFontWeight": "normal",
      "tickSize": -6,
      "labelFont": "Liberation Sans",
      "titleFont": "Liberation Sans"
    },
    "axisX": {"labelPadding": 19, "titlePadding": 6},
    "axisY": {"labelPadding": 16, "titlePadding": 5},
    "legend": {
      "orient": "none",
      "legendX": 51,
      "legendY": 35,
      "symbolType": "M-2.9,0H2.9",
      "symbolSize": 400,
      "labelFontSize": 17.7,
      "labelColor": "#000000",
      "labelOffset": 23,
      "rowPadding": 3.3,
      "padding": 0,
      "labelFont": "Liberation Sans"
    }
  }
}
